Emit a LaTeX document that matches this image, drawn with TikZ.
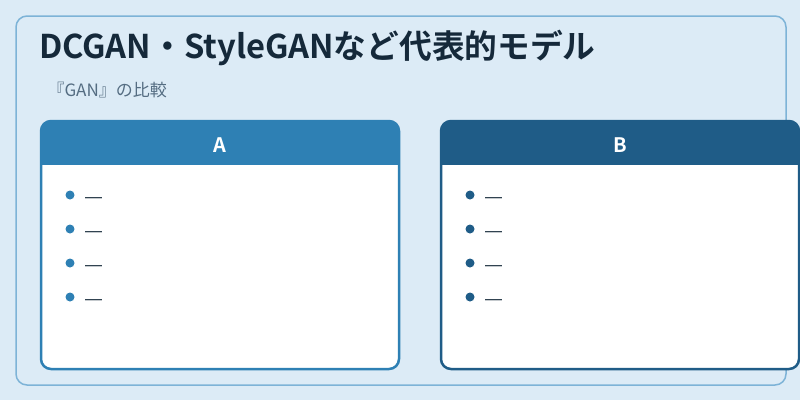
\documentclass[tikz,border=0pt]{standalone}
\usepackage{fontspec}
\setmainfont{Noto Sans CJK JP}
\newfontfamily\jpbold{Noto Sans CJK JP Bold}
\newfontfamily\dashfont{Liberation Sans}
\definecolor{bg}{HTML}{DCEBF6}
\definecolor{frame}{HTML}{7DB3D7}
\definecolor{cola}{HTML}{2E80B4}
\definecolor{colb}{HTML}{1F5C87}
\definecolor{ink}{HTML}{15293A}
\definecolor{sub}{HTML}{556D82}
\begin{document}
\begin{tikzpicture}[x=1pt,y=-1pt,
  card/.style={line width=2.5pt,rounded corners=10pt},
  bul/.style={circle,inner sep=0pt,minimum size=9pt},
  item/.style={anchor=base west,text=ink,font=\dashfont\fontsize{17}{17}\selectfont,inner sep=0pt},
  head/.style={text=white,font=\jpbold\fontsize{20}{20}\selectfont}]
\fill[bg] (0,0) rectangle (800,400);
\useasboundingbox (0,0) rectangle (800,400);
\draw[frame,line width=1.5pt,rounded corners=11pt,fill=bg] (16,16) rectangle (786,385);
\node[anchor=base west,inner sep=0pt,text=ink,font=\jpbold\fontsize{32.7}{32.7}\selectfont] (title) at (39,58) {DCGAN・StyleGANなど代表的モデル};
\node[anchor=base east,inner sep=0pt,text=sub,font=\fontsize{17}{17}\selectfont] (subt) at (167,96) {『GAN』の比較};
% card A
\fill[white,rounded corners=10pt] (41,121) rectangle (399,369);
\begin{scope}
\clip[rounded corners=10pt] (41,121) rectangle (399,369);
\fill[cola] (41,121) rectangle (399,165);
\end{scope}
\draw[card,draw=cola] (41,121) rectangle (399,369);
\node[head] (ha) at (220,145) {A};
\foreach \y/\n in {195/1,229/2,263/3,297/4}{
  \node[bul,fill=cola] (ba\n) at (70,\y) {};
  \node[item] (ia\n) at (85,\y+7) {—};
}
% card B
\fill[white,rounded corners=10pt] (441,121) rectangle (799,369);
\begin{scope}
\clip[rounded corners=10pt] (441,121) rectangle (799,369);
\fill[colb] (441,121) rectangle (799,165);
\end{scope}
\draw[card,draw=colb] (441,121) rectangle (799,369);
\node[head] (hb) at (620,145) {B};
\foreach \y/\n in {195/1,229/2,263/3,297/4}{
  \node[bul,fill=colb] (bb\n) at (470,\y) {};
  \node[item] (ib\n) at (485,\y+7) {—};
}
\end{tikzpicture}
\end{document}
